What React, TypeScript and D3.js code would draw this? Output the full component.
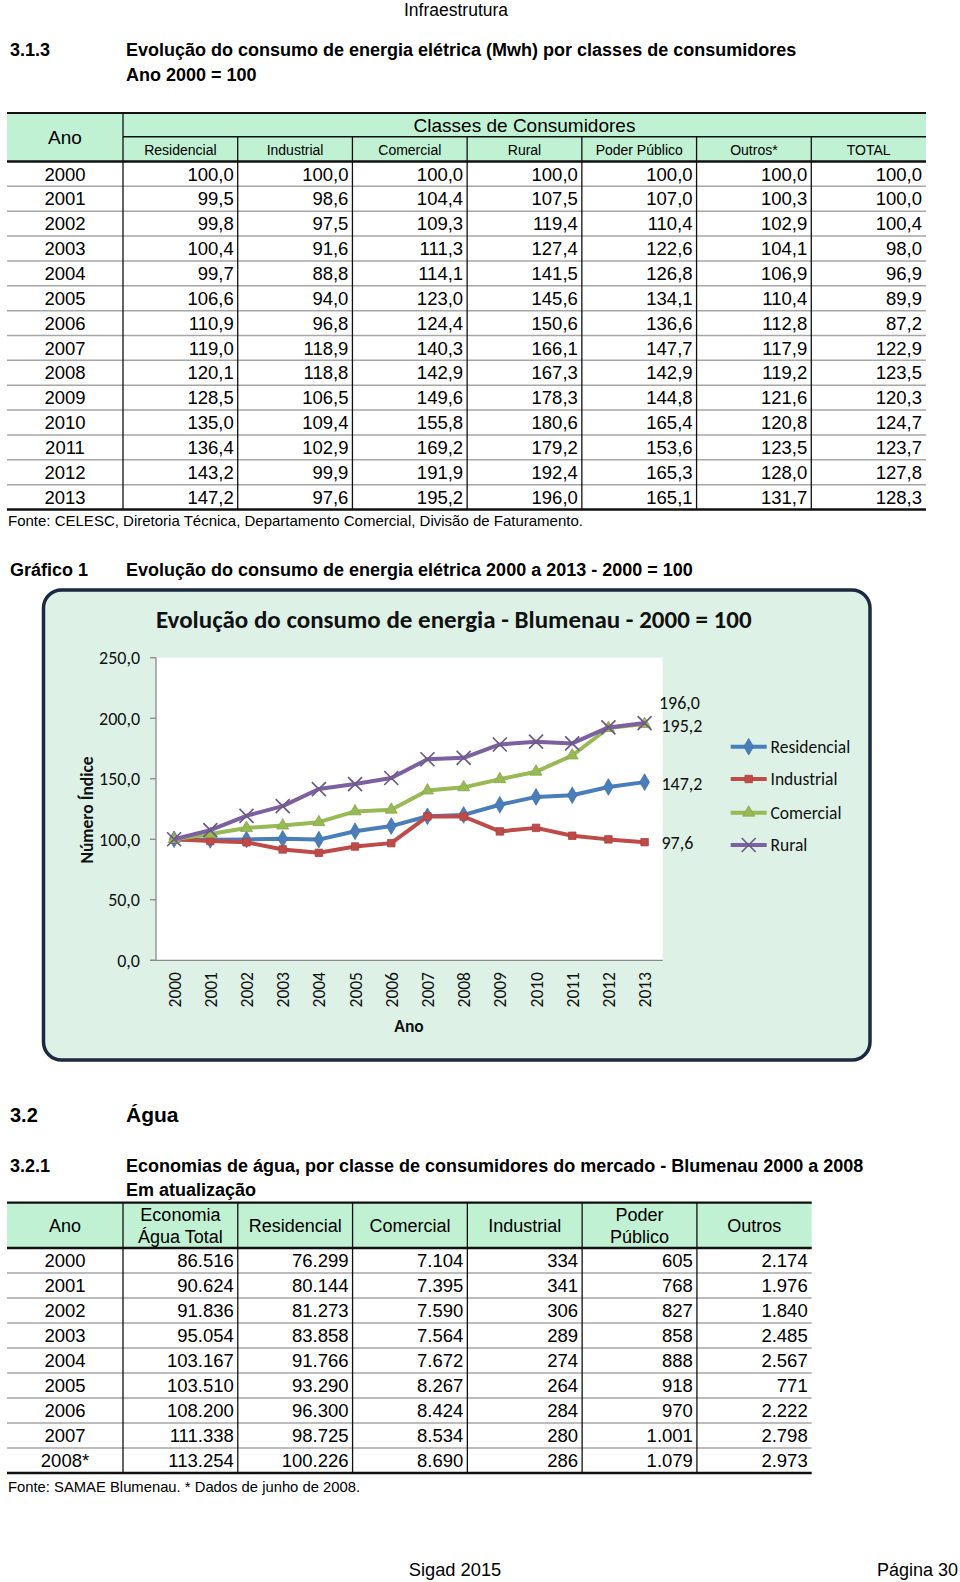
import React from 'react';
import * as d3 from 'd3';

// ---------- Data ----------
const years1 = ['2000','2001','2002','2003','2004','2005','2006','2007','2008','2009','2010','2011','2012','2013'];
const classes1 = ['Residencial','Industrial','Comercial','Rural','Poder Público','Outros*','TOTAL'];
const residencial = [100.0, 99.5, 99.8, 100.4, 99.7, 106.6, 110.9, 119.0, 120.1, 128.5, 135.0, 136.4, 143.2, 147.2];
const industrial = [100.0, 98.6, 97.5, 91.6, 88.8, 94.0, 96.8, 118.9, 118.8, 106.5, 109.4, 102.9, 99.9, 97.6];
const comercial = [100.0, 104.4, 109.3, 111.3, 114.1, 123.0, 124.4, 140.3, 142.9, 149.6, 155.8, 169.2, 191.9, 195.2];
const rural = [100.0, 107.5, 119.4, 127.4, 141.5, 145.6, 150.6, 166.1, 167.3, 178.3, 180.6, 179.2, 192.4, 196.0];
const poderPublico = [100.0, 107.0, 110.4, 122.6, 126.8, 134.1, 136.6, 147.7, 142.9, 144.8, 165.4, 153.6, 165.3, 165.1];
const outros = [100.0, 100.3, 102.9, 104.1, 106.9, 110.4, 112.8, 117.9, 119.2, 121.6, 120.8, 123.5, 128.0, 131.7];
const total = [100.0, 100.0, 100.4, 98.0, 96.9, 89.9, 87.2, 122.9, 123.5, 120.3, 124.7, 123.7, 127.8, 128.3];

const chartSeriesNames = ['Residencial','Industrial','Comercial','Rural'];
const yTicks = [0, 50, 100, 150, 200, 250];

const years2 = ['2000','2001','2002','2003','2004','2005','2006','2007','2008*'];
const headers2 = [['Economia','Água Total'],['Residencial'],['Comercial'],['Industrial'],['Poder','Público'],['Outros']];
const economiaTotal = [86516, 90624, 91836, 95054, 103167, 103510, 108200, 111338, 113254];
const residencial2 = [76299, 80144, 81273, 83858, 91766, 93290, 96300, 98725, 100226];
const comercial2 = [7104, 7395, 7590, 7564, 7672, 8267, 8424, 8534, 8690];
const industrial2 = [334, 341, 306, 289, 274, 264, 284, 280, 286];
const poder2 = [605, 768, 827, 858, 888, 918, 970, 1001, 1079];
const outros2 = [2174, 1976, 1840, 2485, 2567, 771, 2222, 2798, 2973];

// ---------- Helpers ----------
const loc = d3.formatLocale({ decimal: ',', thousands: '.', grouping: [3], currency: ['R$', ''] });
const f1 = loc.format(',.1f');
const fInt = loc.format(',d');

const SANS = '"Liberation Sans", Arial, Helvetica, sans-serif';
const CAL = 'Carlito, Calibri, Lato, "Open Sans", sans-serif';
const GREEN = '#c0f1d3';

function Table1() {
  const cols = [residencial, industrial, comercial, rural, poderPublico, outros, total];
  const left = 7, right = 926, top = 113, mid = 136.7, headBottom = 161.5, bottom = 509.5;
  const xc = d3.scaleBand<string>().domain(classes1).range([123, right]);
  const yr = d3.scaleBand<string>().domain(years1).range([headBottom, bottom]);
  const bw = xc.bandwidth();
  return (
    <g>
      <rect x={left} y={top} width={right - left} height={headBottom - top} fill={GREEN} />
      <text x={65} y={137} dy="0.36em" textAnchor="middle" fontSize={19} fontFamily={SANS}>Ano</text>
      <text x={(123 + right) / 2} y={125} dy="0.36em" textAnchor="middle" fontSize={19} fontFamily={SANS}>Classes de Consumidores</text>
      {classes1.map(c => (
        <text key={c} x={xc(c)! + bw / 2} y={149.5} dy="0.36em" textAnchor="middle" fontSize={14} fontFamily={SANS}>{c}</text>
      ))}
      {years1.map((yv, i) => {
        const y0 = yr(yv)!;
        const yc = y0 + yr.bandwidth() / 2;
        return (
          <g key={yv}>
            {i > 0 && <line x1={left} x2={right} y1={y0} y2={y0} stroke="#a6a6a6" strokeWidth={1.5} />}
            <text x={65} y={yc} dy="0.36em" textAnchor="middle" fontSize={18.5} fontFamily={SANS}>{yv}</text>
            {cols.map((col, j) => (
              <text key={j} x={xc(classes1[j])! + bw - 4} y={yc} dy="0.36em" textAnchor="end" fontSize={18.5} fontFamily={SANS}>{f1(col[i])}</text>
            ))}
          </g>
        );
      })}
      <line x1={123} x2={123} y1={top} y2={bottom} stroke="#111" strokeWidth={1.3} />
      {classes1.slice(1).map(c => (
        <line key={c} x1={xc(c)!} x2={xc(c)!} y1={mid} y2={bottom} stroke="#111" strokeWidth={1.3} />
      ))}
      <line x1={left} x2={right} y1={top} y2={top} stroke="#111" strokeWidth={2.2} />
      <line x1={123} x2={right} y1={mid} y2={mid} stroke="#111" strokeWidth={1.6} />
      <line x1={left} x2={right} y1={headBottom} y2={headBottom} stroke="#111" strokeWidth={2.4} />
      <line x1={left} x2={right} y1={bottom} y2={bottom} stroke="#111" strokeWidth={2.4} />
    </g>
  );
}

function Table2() {
  const cols = [economiaTotal, residencial2, comercial2, industrial2, poder2, outros2];
  const keys = headers2.map(h => h.join(' '));
  const left = 7, top = 1202.7, headBottom = 1248, bottom = 1473;
  const xc = d3.scaleBand<string>().domain(keys).range([123, 811.7]);
  const right = 811.7;
  const yr = d3.scaleBand<string>().domain(years2).range([headBottom, bottom]);
  const bw = xc.bandwidth();
  return (
    <g>
      <rect x={left} y={top} width={right - left} height={headBottom - top} fill={GREEN} />
      <text x={65} y={1226} dy="0.36em" textAnchor="middle" fontSize={18} fontFamily={SANS}>Ano</text>
      {headers2.map((h, j) => {
        const cx = xc(keys[j])! + bw / 2;
        if (h.length === 1) {
          return <text key={j} x={cx} y={1226} dy="0.36em" textAnchor="middle" fontSize={18} fontFamily={SANS}>{h[0]}</text>;
        }
        return (
          <g key={j}>
            <text x={cx} y={1214.5} dy="0.36em" textAnchor="middle" fontSize={18} fontFamily={SANS}>{h[0]}</text>
            <text x={cx} y={1237} dy="0.36em" textAnchor="middle" fontSize={18} fontFamily={SANS}>{h[1]}</text>
          </g>
        );
      })}
      {years2.map((yv, i) => {
        const y0 = yr(yv)!;
        const yc = y0 + yr.bandwidth() / 2;
        return (
          <g key={yv}>
            {i > 0 && <line x1={left} x2={right} y1={y0} y2={y0} stroke="#a6a6a6" strokeWidth={1.5} />}
            <text x={65} y={yc} dy="0.36em" textAnchor="middle" fontSize={18.5} fontFamily={SANS}>{yv}</text>
            {cols.map((col, j) => (
              <text key={j} x={xc(keys[j])! + bw - 4} y={yc} dy="0.36em" textAnchor="end" fontSize={18.5} fontFamily={SANS}>{fInt(col[i])}</text>
            ))}
          </g>
        );
      })}
      {keys.map(k => (
        <line key={k} x1={xc(k)!} x2={xc(k)!} y1={top} y2={bottom} stroke="#111" strokeWidth={1.3} />
      ))}
      <line x1={left} x2={right} y1={top} y2={top} stroke="#111" strokeWidth={2.2} />
      <line x1={left} x2={right} y1={headBottom} y2={headBottom} stroke="#111" strokeWidth={2.4} />
      <line x1={left} x2={right} y1={bottom} y2={bottom} stroke="#111" strokeWidth={2.4} />
    </g>
  );
}

function Chart() {
  const x = d3.scaleBand<string>().domain(years1).range([156, 662.7]);
  const y = d3.scaleLinear().domain([0, 250]).range([960.3, 657.7]);
  const cx = (yr: string) => x(yr)! + x.bandwidth() / 2;
  const series = [
    { name: chartSeriesNames[0], values: residencial, color: '#4a7ebb', mark: 'diamond', labelDy: 2 },
    { name: chartSeriesNames[1], values: industrial, color: '#be4b48', mark: 'square', labelDy: 1 },
    { name: chartSeriesNames[2], values: comercial, color: '#98b954', mark: 'triangle', labelDy: 2 },
    { name: chartSeriesNames[3], values: rural, color: '#7d60a0', mark: 'x', labelDy: -20 },
  ];
  const line = d3.line<number>().x((_, i) => cx(years1[i])).y(d => y(d));
  const sym = {
    diamond: d3.symbol(d3.symbolDiamond, 80)()!,
    square: d3.symbol(d3.symbolSquare, 56)()!,
    triangle: d3.symbol(d3.symbolTriangle, 62)()!,
  } as Record<string, string>;
  const marker = (mark: string, color: string, px: number, py: number, key: any) => {
    if (mark === 'x') {
      const s = 7;
      return (
        <path key={key} d={`M${px - s},${py - s}L${px + s},${py + s}M${px - s},${py + s}L${px + s},${py - s}`}
          stroke="#6c5a88" strokeWidth={1.7} fill="none" />
      );
    }
    const dark = d3.color(color)!.darker(0.3).toString();
    return <path key={key} d={sym[mark]} transform={`translate(${px},${py})`} fill={color} stroke={dark} strokeWidth={0.8} />;
  };
  const last = years1.length - 1;
  const legendY = [746.7, 779, 812.7, 845];
  return (
    <g>
      <rect x={43.5} y={590} width={826.5} height={470} rx={18} ry={18} fill="#ddf1e6" stroke="#1b2a40" strokeWidth={3.5} />
      <text x={156} y={628} fontSize={25} fontWeight="bold" fontFamily={CAL} fill="#111">Evolução do consumo de energia - Blumenau - 2000 = 100</text>
      <rect x={156} y={y(250)} width={662.7 - 156} height={y(0) - y(250)} fill="#ffffff" />
      {/* Y axis */}
      <line x1={156} x2={156} y1={y(250)} y2={y(0)} stroke="#8a8a8a" strokeWidth={1.3} />
      {yTicks.map(t => (
        <g key={t}>
          <line x1={150} x2={156} y1={y(t)} y2={y(t)} stroke="#8a8a8a" strokeWidth={1.3} />
          <text x={140} y={y(t)} dy="0.35em" textAnchor="end" fontSize={18} fontFamily={CAL} fill="#111">{f1(t)}</text>
        </g>
      ))}
      {/* X axis */}
      <line x1={150} x2={662.7} y1={y(0)} y2={y(0)} stroke="#8a8a8a" strokeWidth={1.3} />
      {years1.map(yr => (
        <text key={yr} transform={`translate(${cx(yr) + 6.5},972) rotate(-90)`} textAnchor="end" fontSize={17.5} fontFamily={CAL} fill="#111">{yr}</text>
      ))}
      <text x={409} y={1032} textAnchor="middle" fontSize={17.5} fontWeight="bold" fontFamily={CAL} fill="#111">Ano</text>
      <text transform="translate(93,810) rotate(-90)" textAnchor="middle" fontSize={17.5} fontWeight="bold" fontFamily={CAL} fill="#111">Número Índice</text>
      {/* Series */}
      {series.map(s => (
        <g key={s.name}>
          <path d={line(s.values)!} fill="none" stroke={s.color} strokeWidth={4} strokeLinejoin="round" />
          {s.values.map((v, i) => marker(s.mark, s.color, cx(years1[i]), y(v), i))}
        </g>
      ))}
      {/* End labels */}
      {series.map(s => (
        <text key={s.name} x={s.mark === 'x' ? 659 : 661.5} y={y(s.values[last]) + s.labelDy} dy="0.35em" fontSize={18} fontFamily={CAL} fill="#111">{f1(s.values[last])}</text>
      ))}
      {/* Legend */}
      {series.map((s, i) => (
        <g key={s.name}>
          <line x1={730.7} x2={766.7} y1={legendY[i]} y2={legendY[i]} stroke={s.color} strokeWidth={4} />
          {marker(s.mark, s.color, 748.7, legendY[i], 'm')}
          <text x={770.5} y={legendY[i]} dy="0.35em" fontSize={17.5} fontFamily={CAL} fill="#111">{s.name}</text>
        </g>
      ))}
    </g>
  );
}

export default function App() {
  return (
    <svg width={960} height={1582} viewBox="0 0 960 1582" style={{ position: 'absolute', left: 0, top: 0, background: '#fff' }}>
      <rect x={0} y={0} width={960} height={1582} fill="#fff" />
      <text x={456} y={16} textAnchor="middle" fontSize={17.5} fontFamily={SANS}>Infraestrutura</text>
      <g fontFamily={SANS} fontWeight="bold" fontSize={18}>
        <text x={10} y={56}>3.1.3</text>
        <text x={126} y={56}>Evolução do consumo de energia elétrica (Mwh) por classes de consumidores</text>
        <text x={126} y={81}>Ano 2000 = 100</text>
      </g>
      <Table1 />
      <text x={8} y={526} fontSize={15} fontFamily={SANS}>Fonte: CELESC, Diretoria Técnica, Departamento Comercial, Divisão de Faturamento.</text>
      <g fontFamily={SANS} fontWeight="bold" fontSize={18}>
        <text x={10} y={576}>Gráfico 1</text>
        <text x={126} y={576}>Evolução do consumo de energia elétrica 2000 a 2013 - 2000 = 100</text>
      </g>
      <Chart />
      <g fontFamily={SANS} fontWeight="bold">
        <text x={10} y={1122} fontSize={20}>3.2</text>
        <text x={126} y={1122} fontSize={21}>Água</text>
        <text x={10} y={1172} fontSize={18}>3.2.1</text>
        <text x={126} y={1172} fontSize={18}>Economias de água, por classe de consumidores do mercado - Blumenau 2000 a 2008</text>
        <text x={126} y={1196} fontSize={18}>Em atualização</text>
      </g>
      <Table2 />
      <text x={8} y={1492} fontSize={14.8} fontFamily={SANS}>Fonte: SAMAE Blumenau. * Dados de junho de 2008.</text>
      <text x={455} y={1576} textAnchor="middle" fontSize={18.3} fontFamily={SANS}>Sigad 2015</text>
      <text x={958} y={1576} textAnchor="end" fontSize={18} fontFamily={SANS}>Página 30</text>
    </svg>
  );
}
